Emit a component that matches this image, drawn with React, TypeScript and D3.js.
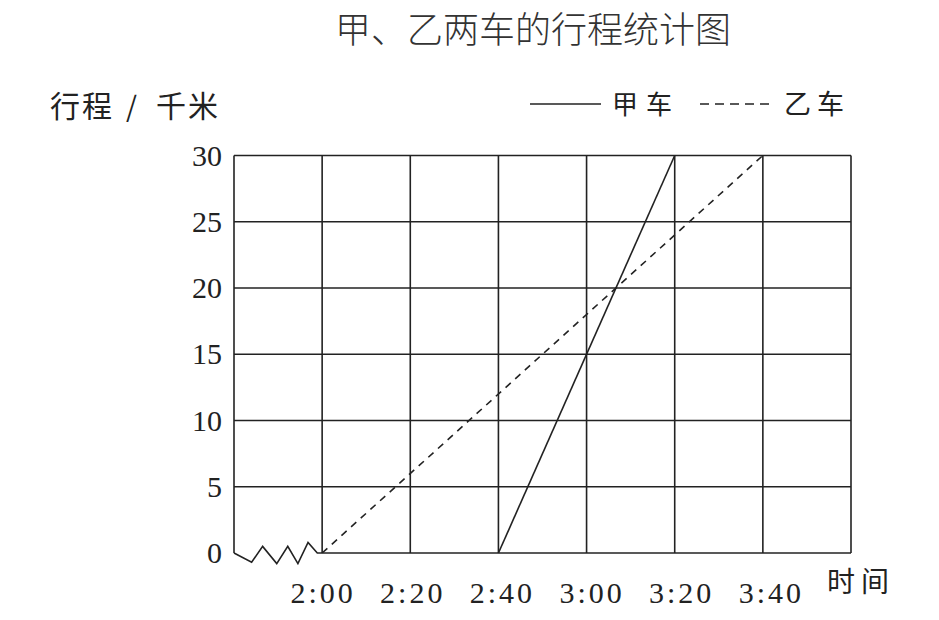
import React from 'react';
import * as d3 from 'd3';

// 时间（自 2:00 起的分钟数）与行程（千米）
const xTicks = [0, 20, 40, 60, 80, 100];
const xTickLabels = ['2:00', '2:20', '2:40', '3:00', '3:20', '3:40'];
const yTicks = [0, 5, 10, 15, 20, 25, 30];
const jiaPoints: [number, number][] = [[40, 0], [80, 30]];
const yiPoints: [number, number][] = [[0, 0], [100, 30]];
// 折断符号（坐标轴省略部分）
const breakPoints: [number, number][] = [
  [-20, 0], [-16, -0.7], [-13.5, 0.5], [-10.3, -0.8], [-7.8, 0.5], [-5.5, -0.8], [-3.2, 0.8], [-1.1, 0], [0, 0],
];

const W = 939;
const H = 620;
const margin = { left: 234, right: 88, top: 155.5, bottom: 67 };
const ink = '#222';
const cjk = 'Noto Sans CJK SC';
const serif = 'Liberation Serif';

const App: React.FC = () => {
  const x = d3.scaleLinear().domain([-20, 120]).range([margin.left, W - margin.right]);
  const y = d3.scaleLinear().domain([0, 30]).range([H - margin.bottom, margin.top]);
  const line = d3.line<[number, number]>().x((d) => x(d[0])).y((d) => y(d[1]));
  const vLines = [-20, 0, 20, 40, 60, 80, 100, 120];

  return (
    <svg width={W} height={H} style={{ position: 'absolute', left: 0, top: 0, background: '#fff' }}>
      <text x={533} y={43} textAnchor="middle" fontFamily={cjk} fontWeight={300} fontSize={36} fill="#333">
        甲、乙两车的行程统计图
      </text>
      {/* 纵轴标题 */}
      <text x={50} y={117} fontFamily={cjk} fontSize={30} fill={ink} letterSpacing={2}>行程</text>
      <text x={126} y={117} fontFamily={cjk} fontSize={28} fill={ink}>/</text>
      <text x={156} y={117} fontFamily={cjk} fontSize={30} fill={ink} letterSpacing={2}>千米</text>
      {/* 图例 */}
      <line x1={530} x2={601} y1={104} y2={104} stroke={ink} strokeWidth={1.5} />
      <text x={612} y={114} fontFamily={cjk} fontSize={26} fill={ink} letterSpacing={8}>甲车</text>
      <line x1={700} x2={772} y1={104} y2={104} stroke={ink} strokeWidth={1.5} strokeDasharray="9,6" />
      <text x={784} y={114} fontFamily={cjk} fontSize={27} fill={ink} letterSpacing={6}>乙车</text>

      {/* 网格 */}
      {yTicks.filter((t) => t > 0).map((t) => (
        <line key={'h' + t} x1={x(-20)} x2={x(120)} y1={y(t)} y2={y(t)} stroke={ink} strokeWidth={1.6} />
      ))}
      <line x1={x(0)} x2={x(120)} y1={y(0)} y2={y(0)} stroke={ink} strokeWidth={1.6} />
      {vLines.map((t) => (
        <line key={'v' + t} x1={x(t)} x2={x(t)} y1={y(30)} y2={y(0)} stroke={ink} strokeWidth={1.6} />
      ))}
      <path d={line(breakPoints) ?? ''} fill="none" stroke={ink} strokeWidth={1.6} />

      {/* 坐标刻度 */}
      {yTicks.map((t) => (
        <text key={'yt' + t} x={222} y={y(t) + 10} textAnchor="end" fontFamily={serif} fontSize={30} fill={ink}>
          {t}
        </text>
      ))}
      {xTicks.map((t, i) => (
        <text key={'xt' + t} x={x(t) + 1 + i * 1.5} y={603} textAnchor="middle" fontFamily={serif} fontSize={30} fill={ink} letterSpacing={3}>
          {xTickLabels[i]}
        </text>
      ))}
      <text x={827} y={592} fontFamily={cjk} fontSize={28} fill={ink} letterSpacing={6}>时间</text>

      {/* 折线 */}
      <path d={line(jiaPoints) ?? ''} fill="none" stroke={ink} strokeWidth={1.6} />
      <path d={line(yiPoints) ?? ''} fill="none" stroke={ink} strokeWidth={1.6} strokeDasharray="7,6" />
    </svg>
  );
};

export default App;
